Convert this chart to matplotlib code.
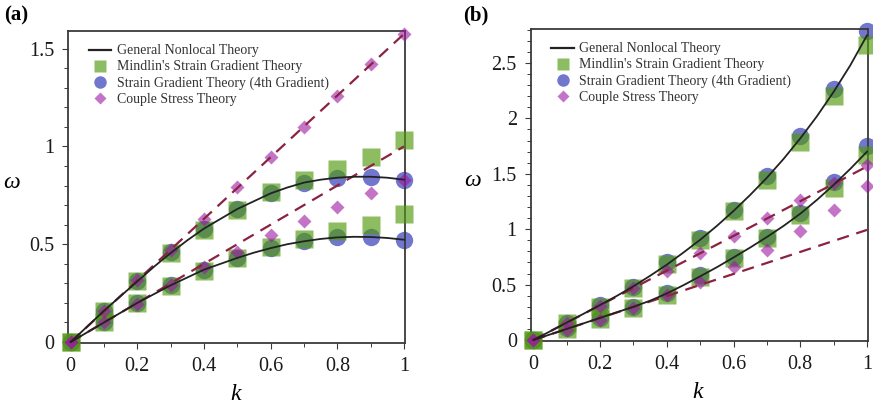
import matplotlib
matplotlib.use("Agg")
import matplotlib.pyplot as plt
from matplotlib.ticker import MultipleLocator, FixedLocator, FixedFormatter

plt.rcParams['font.family'] = ['Liberation Serif', 'DejaVu Serif']
plt.rcParams['mathtext.fontset'] = 'custom'
plt.rcParams['mathtext.it'] = 'Liberation Serif:italic'

# wavenumber samples
k_pts = [0.0, 0.1, 0.2, 0.3, 0.4, 0.5, 0.6, 0.7, 0.8, 0.9, 1.0]
k_fine = [0.0, 0.05, 0.1, 0.15, 0.2, 0.25, 0.3, 0.35, 0.4, 0.45, 0.5,
          0.55, 0.6, 0.65, 0.7, 0.75, 0.8, 0.85, 0.9, 0.95, 1.0]
k_line = [0.0, 1.0]

# ---- panel (a) ----
a_gnt_up = [0, 0.08, 0.16, 0.235, 0.31, 0.385, 0.455, 0.52, 0.58, 0.63, 0.68,
            0.72, 0.76, 0.79, 0.815, 0.83, 0.84, 0.845, 0.845, 0.84, 0.83]
a_gnt_lo = [0, 0.05, 0.1, 0.15, 0.2, 0.245, 0.29, 0.33, 0.37, 0.40, 0.43,
            0.457, 0.48, 0.50, 0.515, 0.527, 0.535, 0.538, 0.537, 0.532, 0.523]
a_msg_up = [0, 0.16, 0.31, 0.455, 0.575, 0.675, 0.765, 0.83, 0.885, 0.945, 1.033]
a_msg_lo = [0, 0.10, 0.20, 0.285, 0.365, 0.43, 0.485, 0.528, 0.57, 0.60, 0.655]
a_sg4_up = [0, 0.16, 0.31, 0.46, 0.58, 0.68, 0.76, 0.815, 0.84, 0.845, 0.83]
a_sg4_lo = [0, 0.10, 0.20, 0.29, 0.37, 0.43, 0.48, 0.515, 0.535, 0.535, 0.523]
a_cst_up = [0, 0.16, 0.315, 0.47, 0.63, 0.79, 0.945, 1.10, 1.26, 1.42, 1.575]
a_cst_lo = [0, 0.10, 0.196, 0.29, 0.383, 0.46, 0.545, 0.62, 0.69, 0.76, 0.83]
a_ref_up = [0, 1.575]
a_ref_lo = [0, 1.0]

# ---- panel (b) ----
b_gnt_up = [0, 0.078, 0.157, 0.236, 0.316, 0.398, 0.485, 0.58, 0.68, 0.79, 0.905,
            1.03, 1.165, 1.31, 1.465, 1.635, 1.82, 2.02, 2.24, 2.48, 2.75]
b_gnt_lo = [0, 0.05, 0.10, 0.15, 0.20, 0.25, 0.30, 0.355, 0.42, 0.495, 0.575,
            0.657, 0.745, 0.835, 0.93, 1.03, 1.14, 1.265, 1.40, 1.545, 1.70]
b_msg_up = [0, 0.15, 0.295, 0.467, 0.687, 0.90, 1.16, 1.446, 1.79, 2.20, 2.666]
b_msg_lo = [0, 0.10, 0.19, 0.29, 0.41, 0.57, 0.74, 0.92, 1.13, 1.37, 1.67]
b_sg4_up = [0, 0.157, 0.316, 0.48, 0.708, 0.919, 1.175, 1.476, 1.837, 2.265, 2.786]
b_sg4_lo = [0, 0.105, 0.20, 0.295, 0.42, 0.587, 0.753, 0.934, 1.145, 1.43, 1.747]
b_cst_up = [0, 0.15, 0.31, 0.467, 0.62, 0.783, 0.94, 1.10, 1.265, 1.42, 1.58]
b_cst_lo = [0, 0.09, 0.18, 0.286, 0.407, 0.527, 0.663, 0.813, 0.98, 1.17, 1.386]
b_ref_up = [0, 1.566]
b_ref_lo = [0, 0.994]

legend_labels = ["General Nonlocal Theory", "Mindlin's Strain Gradient Theory",
                 "Strain Gradient Theory (4th Gradient)", "Couple Stress Theory"]

# dark base colours with partial opacity: light on white, darker where marks overlap
c_green = '#50990d'
a_green = 0.65
c_blue = '#7177cc'
c_pink = '#9d17a3'
a_pink = 0.6
c_green_leg = '#8dbd62'
c_pink_leg = '#c474c8'
c_dash = '#8c2242'
c_axis = '#3a3a3a'

fig = plt.figure(figsize=(8.73, 4.08), dpi=100)
ax_a = fig.add_axes([0.0779, 0.1593, 0.3860, 0.7647])
ax_b = fig.add_axes([0.6079, 0.1642, 0.3864, 0.7647])


def draw_panel(ax, gnt, msg, sg4, cst, ref, ylim, yticks, yticklabels):
    # circles, then squares, then diamonds, lines on top
    for ys in sg4:
        ax.plot(k_pts, ys, 'o', ms=12.5, color=c_blue, mec='none',
                clip_on=False, zorder=2)
    for ys in msg:
        ax.plot(k_pts, ys, 's', ms=12.5, color=c_green, alpha=a_green, mec='none',
                clip_on=False, zorder=3)
    for ys in cst:
        ax.plot(k_pts, ys, 'D', ms=7.0, color=c_pink, alpha=a_pink, mec='none',
                clip_on=False, zorder=4)
    for ys in ref:
        ax.plot(k_line, ys, '--', color=c_dash, lw=1.6, dashes=(5.5, 3.5), zorder=5)
    for ys in gnt:
        ax.plot(k_fine, ys, '-', color='#222222', lw=1.3, zorder=6)

    ax.set_xlim(-0.008, 1.003)
    ax.set_ylim(*ylim)
    ax.xaxis.set_major_locator(FixedLocator([0, 0.2, 0.4, 0.6, 0.8, 1.0]))
    ax.xaxis.set_major_formatter(FixedFormatter(['0', '0.2', '0.4', '0.6', '0.8', '1']))
    ax.xaxis.set_minor_locator(MultipleLocator(0.1))
    ax.yaxis.set_major_locator(FixedLocator(yticks))
    ax.yaxis.set_major_formatter(FixedFormatter(yticklabels))
    ax.yaxis.set_minor_locator(MultipleLocator(0.1))
    ax.tick_params(which='both', direction='out', colors=c_axis, labelcolor='#1a1a1a',
                   labelsize=14.5, top=False, right=False)
    ax.tick_params(which='major', length=4, width=0.8, pad=6)
    ax.tick_params(which='minor', length=3, width=0.7)
    for s in ax.spines.values():
        s.set_color(c_axis)
        s.set_linewidth(1.3)

    ax.set_xlabel('$k$', fontsize=17)
    ax.set_ylabel('$\\omega$', fontsize=17, rotation=0)

    h = [plt.Line2D([], [], color='#222222', lw=1.6),
         plt.Line2D([], [], ls='none', marker='s', ms=9, color=c_green_leg, mec='none'),
         plt.Line2D([], [], ls='none', marker='o', ms=9, color=c_blue, mec='none'),
         plt.Line2D([], [], ls='none', marker='D', ms=6, color=c_pink_leg, mec='none')]
    ax.legend(h, legend_labels, loc='upper left', frameon=False, fontsize=10,
              handlelength=1.6, handletextpad=0.4, labelspacing=0.22,
              bbox_to_anchor=(0.045, 0.975), borderaxespad=0.0,
              labelcolor='#333333')


draw_panel(ax_a, [a_gnt_up, a_gnt_lo], [a_msg_up, a_msg_lo], [a_sg4_up, a_sg4_lo],
           [a_cst_up, a_cst_lo], [a_ref_up, a_ref_lo], (-0.005, 1.59),
           [0, 0.5, 1.0, 1.5], ['0', '0.5', '1', '1.5'])
draw_panel(ax_b, [b_gnt_up, b_gnt_lo], [b_msg_up, b_msg_lo], [b_sg4_up, b_sg4_lo],
           [b_cst_up, b_cst_lo], [b_ref_up, b_ref_lo], (-0.009, 2.807),
           [0, 0.5, 1.0, 1.5, 2.0, 2.5], ['0', '0.5', '1', '1.5', '2', '2.5'])

ax_a.xaxis.set_label_coords(0.50, -0.13)
ax_a.yaxis.set_label_coords(-0.166, 0.48)
ax_b.xaxis.set_label_coords(0.496, -0.13)
ax_b.yaxis.set_label_coords(-0.171, 0.48)

fig.text(0.005, 0.962, '(a)', fontsize=15, fontweight='bold', va='center', ha='left')
fig.text(0.530, 0.962, '(b)', fontsize=15, fontweight='bold', va='center', ha='left')

fig.savefig('out.png', dpi=100)
